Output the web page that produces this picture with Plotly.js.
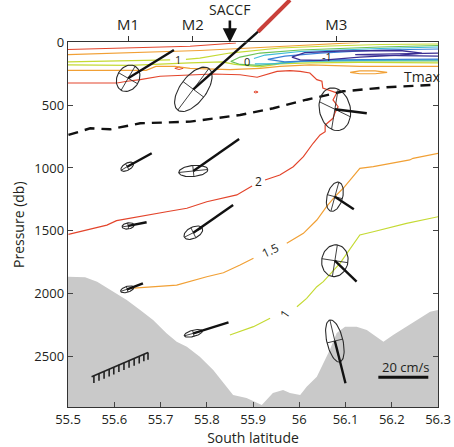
<!DOCTYPE html>
<html><head><meta charset="utf-8">
<script src="https://cdn.plot.ly/plotly-3.0.1.min.js"></script>
<style>body{margin:0;background:#fff}#chart{width:454px;height:447px}</style>
</head><body><div id="chart"></div>
<script>
// ---------- bathymetry ----------
const bathyLat = [55.500,55.537,55.563,55.598,55.627,55.656,55.684,55.713,55.735,55.757,55.785,55.814,55.836,55.857,55.886,55.919,55.943,55.965,55.980,56.002,56.016,56.038,56.066,56.081,56.099,56.124,56.146,56.168,56.182,56.203,56.232,56.261,56.283,56.300];
const bathyP   = [1867,1871,1906,1986,2052,2132,2212,2318,2385,2424,2504,2610,2716,2809,2833,2889,2793,2770,2793,2809,2743,2664,2451,2315,2265,2265,2291,2345,2385,2331,2265,2198,2146,2132];
const bottomP = 2905;

// ---------- temperature contours ----------
const c2MainLat = [55.500,55.606,55.628,55.656,55.699,55.764,55.814,55.872,55.909,55.952,55.980,56.002,56.023,56.038,56.049,56.051,56.062,56.081,56.073,56.084,56.077,56.073,56.056,56.056,56.045,56.030,56.009,55.987,55.958,55.926,null,55.898,55.865,55.800,55.757,55.713,55.656,55.605,55.584,55.501];
const c2MainP   = [323,323,309,296,269,257,251,257,277,230,225,230,243,296,309,363,379,402,458,512,562,604,658,711,737,803,910,990,1056,1096,null,1144,1215,1269,1321,1349,1388,1420,1455,1529];
const c2TopLat = [55.500,55.612,55.764,55.863];
const c2TopP   = [56,44,30,4];
const c2LoopALat = [55.731,55.740,55.749,55.740,55.731];
const c2LoopAP   = [206,195,206,215,206];
const c2LoopBLat = [55.902,55.906,55.911,55.906,55.902];
const c2LoopBP   = [395,387,395,402,395];

const c15TopLat = [55.500,55.677,55.785,55.894,56.002,56.088,56.131];
const c15TopP   = [96,76,64,44,24,8,0];
const c15LowLat = [55.500,55.669,55.690,55.731,55.764,55.850,55.915,55.958,56.023,56.131,56.300];
const c15LowP   = [222,222,191,191,207,217,207,190,179,190,190];
const c15LoopLat = [56.110,56.131,56.164,56.190,56.164,56.131,56.110];
const c15LoopP   = [238,226,226,238,249,249,238];
const c15DeepLat = [55.634,55.735,55.800,55.836,55.872,55.901,null,55.973,56.009,56.038,56.059,56.077,56.095,56.113,56.131,56.160,56.196,56.239,56.246,56.301];
const c15DeepP   = [1959,1933,1867,1835,1773,1720,null,1600,1521,1415,1309,1229,1162,1082,1003,990,963,936,923,883];

const c1TopLat = [55.500,55.612,55.721,null,55.755,55.785,55.850,55.958,56.066,56.175,56.300];
const c1TopP   = [155,147,139,null,135,124,84,44,28,16,12];
const c1LowLat = [55.500,55.634,55.764,55.833,55.861,55.915,55.958,56.023,56.131,56.300];
const c1LowP   = [179,183,163,155,175,195,171,163,159,163];
const c1DeepLat = [55.850,55.901,55.937,null,55.995,56.016,56.038,56.052,56.088,56.113,56.131,56.160,56.232,56.301];
const c1DeepP   = [2331,2265,2198,null,2106,2039,1946,1906,1760,1627,1534,1508,1441,1388];

const c05Lat = [56.300,56.175,56.002,55.915,55.872,55.852,55.872,55.915,55.980,56.066,56.300];
const c05P   = [24,36,60,84,116,151,175,183,155,147,147];
const c0Lat = [56.300,56.175,56.002,55.926,55.902,null,55.904,55.948,56.002,56.131,56.300];
const c0P   = [36,48,72,100,128,null,171,171,151,143,139];
const cm05Lat = [56.300,56.175,56.045,55.969,55.932,55.969,56.066,56.300];
const cm05P   = [52,60,84,108,135,155,139,132];
const cm1Lat = [55.984,56.012,56.088,56.218,56.265,56.218,56.131,56.045,56.002,55.984];
const cm1P   = [116,80,68,64,84,100,116,143,139,116];
const cm15Lat = [56.300,56.218,56.121,56.218,56.300];
const cm15P   = [84,88,96,104,108];

// ---------- Tmax ----------
const tmaxLat = [55.501,55.548,55.591,55.656,55.764,55.872,55.944,56.016,56.095,56.189,56.297];
const tmaxP   = [737,684,692,644,631,578,524,456,389,357,336];

// ---------- current ellipses & mean vectors (M1, M2, M3) ----------
const ellLat  = [55.630,55.628,55.630,55.628, 55.771,55.771,55.771,55.771, 56.077,56.077,56.077,56.077];
const ellP    = [285,990,1462,1967, 373,1024,1516,2318, 532,1229,1739,2379];
const ellALat = [0.0151,0.0130,0.0130,0.0141, 0.0337,0.0314,0.0195,0.0195, 0.0071,0.0086,0.0054,-0.0108];
const ellAP   = [-95.6,-27.9,-8.0,-15.9, -165.8,-12,-35.9,-19.9, -159.4,-115.6,-125.9,-167.4];
const ellBLat = [0.0205,0.0038,0.0011,0.0017, 0.0225,0.0013,0.0054,0.0017, 0.0335,0.0162,0.0281,0.0169];
const ellBP   = [43.8,24.1,23.9,22.3, 62.2,43.8,39.9,23.9, 59.8,15.9,15.9,-15.1];
const vecEndLat = [55.729,55.681,55.670,55.662, 55.911,55.870,55.857,55.847, 56.146,56.118,56.124,56.100];
const vecEndP   = [60,883,1433,1919, -86,769,1295,2230, 564,1329,1906,2716];
// continuation of the M2 upper vector above the section
const outLat = [55.911,55.980];
const outP   = [-86,-339];

// ---------- scale bar, hatch ----------
const scaleLat = [56.171,56.279];
const scaleP   = [2668,2668];
const hatchLat = [55.551,55.556,55.567,55.578,55.589,55.599,55.610,55.621,55.632,55.643,55.654,55.664,55.673];
const hatchP   = [2664,2656,2638,2621,2603,2587,2569,2553,2535,2518,2501,2483,2470];

// ---------- ticks ----------
const mooringLat = [55.63,55.77,56.08];
const mooringNames = ['M1','M2','M3'];

const traces = [];
traces.push({x: bathyLat.concat([56.3,55.5]), y: bathyP.concat([bottomP,bottomP]), fill:'toself', fillcolor:'#c9c9c9', line:{width:0}, mode:'lines', hoverinfo:'skip'});

function L(x,y,color,width,extra){
  traces.push(Object.assign({x:x,y:y,mode:'lines',line:{color:color,width:width},hoverinfo:'skip',connectgaps:false}, extra||{}));
}
const RED='#e3452c', ORG='#f1a035', YG='#c5da34', GRN='#6cc255', CYN='#3cbcd6', BLU='#3a7fd6', PUR='#3b2f94';
L(c2MainLat,c2MainP,RED,1.2); L(c2TopLat,c2TopP,RED,1.2); L(c2LoopALat,c2LoopAP,RED,1); L(c2LoopBLat,c2LoopBP,RED,1);
L(c15TopLat,c15TopP,ORG,1.2); L(c15LowLat,c15LowP,ORG,1.2); L(c15LoopLat,c15LoopP,ORG,1.2); L(c15DeepLat,c15DeepP,ORG,1.2);
L(c1TopLat,c1TopP,YG,1.2); L(c1LowLat,c1LowP,YG,1.2); L(c1DeepLat,c1DeepP,YG,1.2);
L(c05Lat,c05P,GRN,1.2); L(c0Lat,c0P,CYN,1.2); L(cm05Lat,cm05P,BLU,1.2); L(cm1Lat,cm1P,PUR,1.3); L(cm15Lat,cm15P,PUR,1.3);
L(tmaxLat,tmaxP,'#111',2.4,{line:{color:'#111',width:2.4,dash:'10px,7px'}});

// ellipses
const ex=[], ey=[], cx=[], cy=[], vx=[], vy=[];
const N=72;
for(let i=0;i<ellLat.length;i++){
  for(let k=0;k<=N;k++){
    const t=2*Math.PI*k/N;
    ex.push(ellLat[i]+ellALat[i]*Math.cos(t)+ellBLat[i]*Math.sin(t));
    ey.push(ellP[i]+ellAP[i]*Math.cos(t)+ellBP[i]*Math.sin(t));
  }
  ex.push(null); ey.push(null);
  cx.push(ellLat[i]-ellALat[i], ellLat[i]+ellALat[i], null, ellLat[i]-ellBLat[i], ellLat[i]+ellBLat[i], null);
  cy.push(ellP[i]-ellAP[i], ellP[i]+ellAP[i], null, ellP[i]-ellBP[i], ellP[i]+ellBP[i], null);
  vx.push(ellLat[i], vecEndLat[i], null); vy.push(ellP[i], vecEndP[i], null);
}
L(ex,ey,'#2a2a2a',1.1);
L(cx,cy,'#2a2a2a',0.9);
L(vx,vy,'#111',2.4);
// part above the section
traces.push({x:vx,y:vy,xaxis:'x',yaxis:'y3',mode:'lines',line:{color:'#111',width:2.4},hoverinfo:'skip'});
traces.push({x:outLat,y:outP,xaxis:'x',yaxis:'y3',mode:'lines',line:{color:'#c9403a',width:4},hoverinfo:'skip'});

// scale bar
L(scaleLat,scaleP,'#111',3);
// hatched mark
const hx=[], hy=[];
hx.push(hatchLat[0],hatchLat[hatchLat.length-1],null); hy.push(hatchP[0],hatchP[hatchP.length-1],null);
for(let i=1;i<hatchLat.length;i++){ hx.push(hatchLat[i],hatchLat[i],null); hy.push(hatchP[i],hatchP[i]+58,null); }
L(hx,hy,'#222',1.6);

// dummy trace to activate top axis
traces.push({x:[55.5],y:[0],xaxis:'x2',yaxis:'y',mode:'markers',marker:{opacity:0},hoverinfo:'skip',showlegend:false});

const FONT = 'Open Sans, Lato, sans-serif';
const lab = (x,y,t,ang,size) => ({x:x,y:y,xref:'x',yref:'y',text:t,showarrow:false,textangle:ang||0,font:{family:FONT,size:size||12,color:'#231f20'}});
const layout = {
  width:454, height:447, showlegend:false,
  paper_bgcolor:'#fff', plot_bgcolor:'rgba(0,0,0,0)',
  margin:{l:68,r:16,t:0,b:40},
  font:{family:FONT,color:'#231f20'},
  xaxis:{range:[55.5,56.3], dtick:0.1, tick0:55.5, ticks:'inside', ticklen:5, tickcolor:'#444', showline:true, linecolor:'#333', linewidth:1.3, mirror:true, showgrid:false, zeroline:false, tickfont:{size:13,family:FONT,color:'#231f20'}, title:{text:'South latitude', font:{size:14,family:FONT,color:'#231f20'}, standoff:4}, anchor:'y'},
  xaxis2:{range:[55.5,56.3], overlaying:'x', side:'top', anchor:'y', tickmode:'array', tickvals:mooringLat, ticktext:mooringNames, ticks:'outside', ticklen:5, tickcolor:'#333', showline:false, showgrid:false, zeroline:false, tickfont:{size:15,family:FONT,color:'#231f20'}},
  yaxis:{domain:[0,0.8956], range:[2905,0], tickvals:[0,500,1000,1500,2000,2500], ticks:'inside', ticklen:5, tickcolor:'#444', showline:true, linecolor:'#333', linewidth:1.3, mirror:'ticks', showgrid:false, zeroline:false, tickfont:{size:13,family:FONT,color:'#231f20'}, title:{text:'Pressure (db)', font:{size:14,family:FONT,color:'#231f20'}, standoff:6}, anchor:'x'},
  yaxis3:{domain:[0.8956,1], range:[0,-339], visible:false, anchor:'x', showgrid:false, zeroline:false},
  annotations:[
    lab(55.911,1110,'2',0), lab(55.937,1660,'1.5',-25), lab(55.969,2158,'1',-55),
    lab(55.738,139,'1',0,11), lab(55.886,150,'0',0,11), lab(56.059,113,'-1',0,11),
    lab(56.265,269,'Tmax',0,14), lab(56.229,2589,'20 cm/s',0,13),
    {x:55.85,y:0,xref:'x',yref:'y',text:'SACCF',showarrow:true,ax:0,ay:-33,arrowhead:2,arrowsize:1.1,arrowwidth:2.6,arrowcolor:'#111',standoff:0,font:{family:FONT,size:14,color:'#231f20'}}
  ]
};
Plotly.newPlot('chart',traces,layout,{staticPlot:true});
</script></body></html>
